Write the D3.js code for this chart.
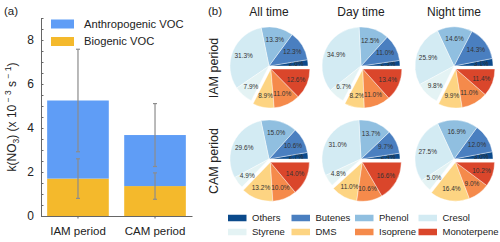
<!DOCTYPE html>
<html>
<head>
<meta charset="utf-8">
<script src="https://cdn.jsdelivr.net/npm/d3@7"></script>
<style>
  body { margin: 0; background: #fff; }
  svg { font-family: "Liberation Sans", Arial, sans-serif; }
</style>
</head>
<body>
<svg id="chart" width="500" height="242"></svg>
<script>
// panel (a) data
const periods = ['IAM period', 'CAM period'];
const biogenic = [1.70, 1.36];
const anthropogenic = [3.55, 2.32];
const biogenicErr = [0.90, 0.60];
const totalErr = [2.33, 1.43];
const yTicks = [0, 2, 4, 6, 8];

// panel (b) data
const species = ['Others', 'Butenes', 'Phenol', 'Cresol', 'Styrene', 'DMS', 'Isoprene', 'Monoterpene'];
const speciesColors = ['#0b4a8b', '#4a7fc0', '#90bfe0', '#d3ebf3', '#e4f3f4', '#fdd482', '#f58a4b', '#da462b'];
const biogenicSpecies = ['DMS', 'Isoprene', 'Monoterpene'];
const timeLabels = ['All time', 'Day time', 'Night time'];
const iamAll = [2.6, 12.3, 13.3, 31.3, 7.9, 8.9, 11.0, 12.6];
const iamDay = [2.3, 11.0, 12.5, 34.9, 6.7, 8.2, 11.0, 13.4];
const iamNight = [3.1, 14.3, 14.6, 25.9, 9.8, 9.9, 11.0, 11.4];
const camAll = [2.7, 10.6, 15.0, 29.6, 4.9, 13.2, 10.0, 14.0];
const camDay = [2.4, 9.7, 13.7, 31.0, 4.8, 11.0, 10.6, 16.6];
const camNight = [3.0, 12.0, 16.9, 27.5, 5.0, 16.4, 9.0, 10.2];

const svg = d3.select('#chart');

// ---------- panel (a): stacked bars ----------
const x = d3.scaleBand().domain(periods).range([41, 192]).paddingInner(0.2).paddingOuter(0.08);
const y = d3.scaleLinear().domain([0, 9]).range([216, 18]);

svg.append('text').attr('x', 4).attr('y', 15).attr('font-size', 11.5).attr('fill', '#222').text('(a)');

const a = svg.append('g');

a.selectAll('.bio').data(periods).enter().append('rect')
  .attr('x', d => x(d)).attr('width', x.bandwidth())
  .attr('y', (d, i) => y(biogenic[i]))
  .attr('height', (d, i) => y(0) - y(biogenic[i]))
  .attr('fill', '#f4b92c');

a.selectAll('.anth').data(periods).enter().append('rect')
  .attr('x', d => x(d)).attr('width', x.bandwidth())
  .attr('y', (d, i) => y(biogenic[i] + anthropogenic[i]))
  .attr('height', (d, i) => y(biogenic[i]) - y(biogenic[i] + anthropogenic[i]))
  .attr('fill', '#5f9df6');

// error bars
function errBar (cx, v, e) {
  const g = a.append('g').attr('stroke', '#8c8c8c').attr('stroke-width', 1.2);
  g.append('line').attr('x1', cx).attr('x2', cx).attr('y1', y(v - e)).attr('y2', y(v + e));
  [v - e, v + e].forEach(t => {
    g.append('line').attr('x1', cx - 2).attr('x2', cx + 2).attr('y1', y(t)).attr('y2', y(t));
  });
}
periods.forEach((p, i) => {
  const cx = x(p) + x.bandwidth() / 2;
  errBar(cx, biogenic[i] + anthropogenic[i], totalErr[i]);
  errBar(cx, biogenic[i], biogenicErr[i]);
});

const yAxis = d3.axisLeft(y)
  .tickValues(d3.range(0, 9.01, 0.5))
  .tickFormat(d => yTicks.includes(d) ? d : '')
  .tickSizeInner(-2.5).tickSizeOuter(0).tickPadding(7);
const ya = a.append('g').attr('transform', 'translate(41,0)').call(yAxis);
ya.select('.domain').attr('stroke', '#666');
ya.selectAll('.tick line').attr('stroke', '#666');
ya.selectAll('text').attr('font-size', 12).attr('fill', '#222').attr('font-family', null);

const xAxis = d3.axisBottom(x).tickSizeInner(2.5).tickSizeOuter(0).tickPadding(8);
const xa = a.append('g').attr('transform', 'translate(0,216)').call(xAxis);
xa.select('.domain').attr('stroke', '#666');
xa.selectAll('.tick line').attr('stroke', '#666');
xa.selectAll('text').attr('font-size', 11.5).attr('fill', '#222').attr('font-family', null);

// y label
const yl = svg.append('text')
  .attr('transform', 'translate(16,117) rotate(-90)')
  .attr('text-anchor', 'middle').attr('font-size', 12).attr('fill', '#222');
yl.append('tspan').text('k(NO');
yl.append('tspan').attr('font-size', 8.5).attr('dy', 3).text('3');
yl.append('tspan').attr('dy', -3).text(') (x 10');
yl.append('tspan').attr('font-size', 8.5).attr('dy', -5).text(' − 3');
yl.append('tspan').attr('dy', 5).text(' s');
yl.append('tspan').attr('font-size', 8.5).attr('dy', -5).text(' − 1');
yl.append('tspan').attr('dy', 5).text(')');

// legend (a)
[['Anthropogenic VOC', '#5f9df6', 24], ['Biogenic VOC', '#f4b92c', 41.5]].forEach(([t, c, cy]) => {
  svg.append('rect').attr('x', 51).attr('y', cy - 4.5).attr('width', 23).attr('height', 9).attr('fill', c);
  svg.append('text').attr('x', 84).attr('y', cy).attr('dy', '0.35em')
    .attr('font-size', 11.2).attr('fill', '#222').text(t);
});

// ---------- panel (b): pies ----------
svg.append('text').attr('x', 208).attr('y', 15).attr('font-size', 11.5).attr('fill', '#222').text('(b)');

const pieCx = [269, 361, 454];
const pieCy = [66, 159];
const radius = 39;
const rows = [
  { label: 'IAM period', data: [iamAll, iamDay, iamNight] },
  { label: 'CAM period', data: [camAll, camDay, camNight] }
];

const color = d3.scaleOrdinal().domain(species).range(speciesColors);
const pie = d3.pie().sort(null).startAngle(Math.PI / 2).endAngle(Math.PI / 2 - 2 * Math.PI);
const arc = d3.arc().innerRadius(0).outerRadius(radius);
const labelArc = d3.arc().innerRadius(radius * 0.7).outerRadius(radius * 0.7);

timeLabels.forEach((t, j) => {
  svg.append('text').attr('x', pieCx[j]).attr('y', 16).attr('text-anchor', 'middle')
    .attr('font-size', 12).attr('fill', '#222').text(t);
});

rows.forEach((row, r) => {
  svg.append('text')
    .attr('transform', `translate(218,${pieCy[r] + 2}) rotate(-90)`)
    .attr('text-anchor', 'middle').attr('font-size', 12.5).attr('fill', '#222').text(row.label);

  row.data.forEach((vals, j) => {
    const arcs = pie(vals.map((v, k) => ({ name: species[k], value: v })).map(d => d)
      .map(d => d.value)).map((d, k) => Object.assign(d, { name: species[k] }));

    // the biogenic group is pulled out along its middle angle
    const bio = arcs.filter(d => biogenicSpecies.includes(d.name));
    const mid = (bio[0].startAngle + bio[bio.length - 1].endAngle) / 2;
    const off = radius * 0.09;
    const dx = Math.sin(mid) * off, dy = -Math.cos(mid) * off;

    const g = svg.append('g').attr('transform', `translate(${pieCx[j]},${pieCy[r]})`);
    const slice = g.selectAll('.slice').data(arcs).enter().append('g')
      .attr('transform', d => biogenicSpecies.includes(d.name) ? `translate(${dx},${dy})` : null);

    slice.append('path').attr('d', arc)
      .attr('fill', d => color(d.name))
      .attr('stroke', '#fff').attr('stroke-width', 0.4);

    slice.append('text')
      .attr('transform', d => `translate(${labelArc.centroid(d)})`)
      .attr('text-anchor', 'middle').attr('dy', '0.35em')
      .attr('font-size', 6.5).attr('fill', '#333')
      .text(d => d.value.toFixed(1) + '%');
  });
});

// legend (b)
species.forEach((s, k) => {
  const col = k % 4, row = Math.floor(k / 4);
  const lx = 228 + col * 63.5, ly = 218 + row * 14;
  svg.append('rect').attr('x', lx).attr('y', ly - 3.25).attr('width', 18.5).attr('height', 6.5).attr('fill', color(s));
  svg.append('text').attr('x', lx + 24).attr('y', ly).attr('dy', '0.35em')
    .attr('font-size', 9.5).attr('fill', '#222').text(s);
});
</script>
</body>
</html>
